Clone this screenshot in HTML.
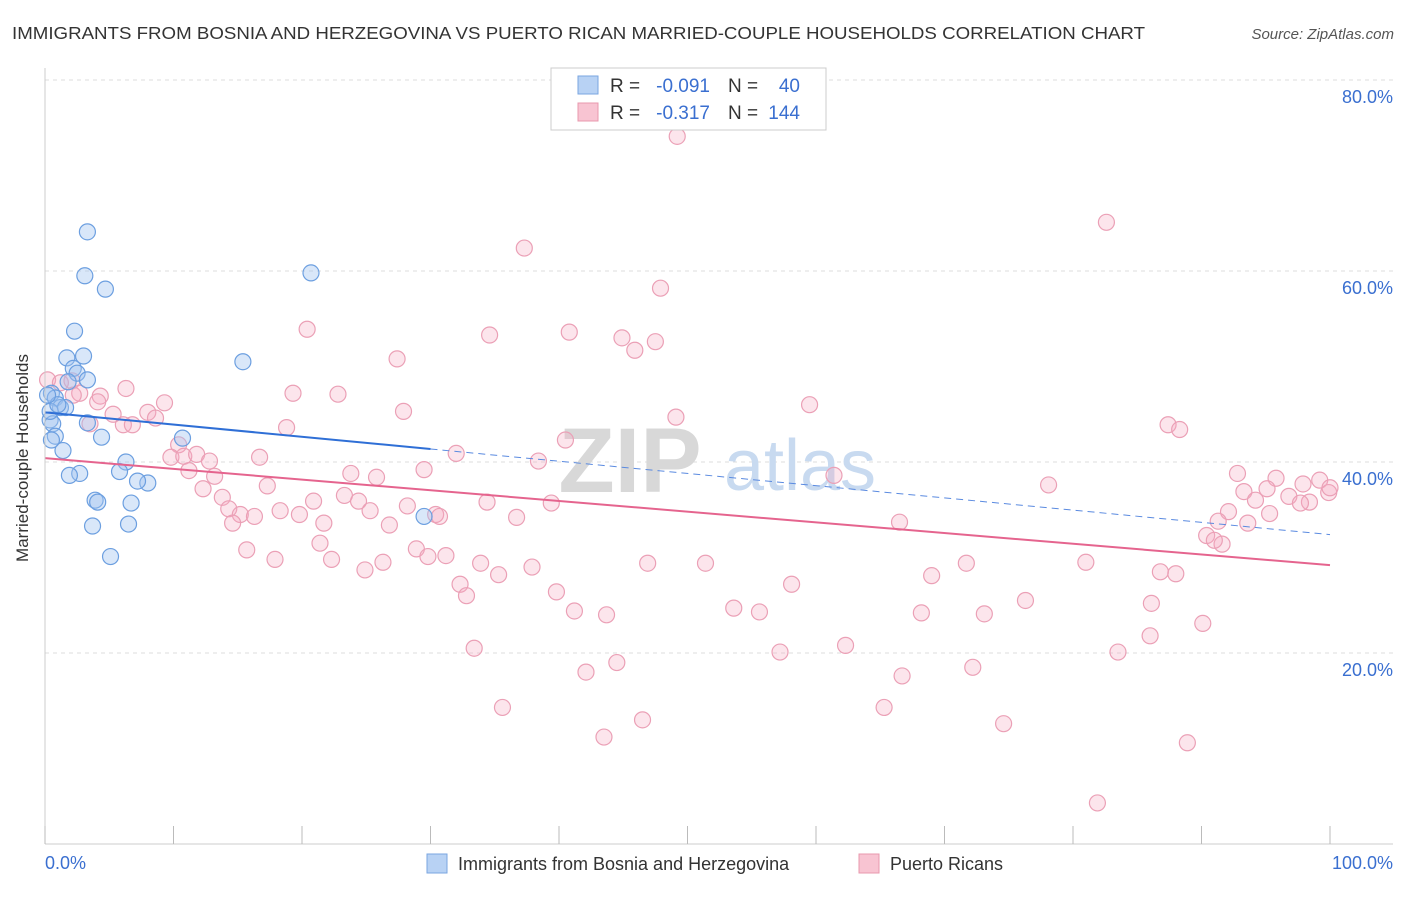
<!DOCTYPE html>
<html><head><meta charset="utf-8">
<style>
body{margin:0;background:#fff;font-family:"Liberation Sans",sans-serif;}
svg text{font-family:"Liberation Sans",sans-serif;}
</style></head>
<body>
<svg width="1406" height="892" viewBox="0 0 1406 892">
<text x="12" y="39" font-size="17.5" fill="#333" textLength="1133" lengthAdjust="spacingAndGlyphs">IMMIGRANTS FROM BOSNIA AND HERZEGOVINA VS PUERTO RICAN MARRIED-COUPLE HOUSEHOLDS CORRELATION CHART</text>
<text x="1394" y="39" font-size="15" fill="#555" text-anchor="end" font-style="italic">Source: ZipAtlas.com</text>
<g id="grid"></g>
<g>
<text x="630" y="492" font-size="92" fill="#d8d8d8" text-anchor="middle" font-family="Liberation Serif" font-weight="bold">ZIP</text>
<text x="800" y="490" font-size="72" fill="#c8daf0" text-anchor="middle">atlas</text>
</g>
<g id="pts"></g>
<g id="trend"></g>
<g id="axes"></g>
<text x="28" y="458" font-size="17" fill="#333" text-anchor="middle" transform="rotate(-90 28 458)">Married-couple Households</text>
<g>
<rect x="551" y="68" width="275" height="62" fill="#fff" stroke="#ccc"/>
<rect x="578" y="76" width="20" height="18" fill="#b8d2f4" stroke="#7aa6e0"/>
<text x="610" y="92" font-size="19" fill="#333">R =</text>
<text x="710" y="92" font-size="19" fill="#3a6fd0" text-anchor="end">-0.091</text>
<text x="728" y="92" font-size="19" fill="#333">N =</text>
<text x="800" y="92" font-size="19" fill="#3a6fd0" text-anchor="end">40</text>
<rect x="578" y="103" width="20" height="18" fill="#f8c4d2" stroke="#e898ae"/>
<text x="610" y="119" font-size="19" fill="#333">R =</text>
<text x="710" y="119" font-size="19" fill="#3a6fd0" text-anchor="end">-0.317</text>
<text x="728" y="119" font-size="19" fill="#333">N =</text>
<text x="800" y="119" font-size="19" fill="#3a6fd0" text-anchor="end">144</text>
</g>
<g>
<rect x="427" y="854" width="20" height="19" fill="#b8d2f4" stroke="#7aa6e0"/>
<text x="458" y="870" font-size="18" fill="#333">Immigrants from Bosnia and Herzegovina</text>
<rect x="859" y="854" width="20" height="19" fill="#f8c4d2" stroke="#e898ae"/>
<text x="890" y="870" font-size="18" fill="#333">Puerto Ricans</text>
</g>
</svg>
<script>
const yTicks=[20,40,60,80];
const yTickLabels=["20.0%","40.0%","60.0%","80.0%"];
const xTicks=[0,10,20,30,40,50,60,70,80,90,100];
const blueX=[3.3,3.1,4.7,20.7,2.3,3.0,1.7,15.4,2.2,2.5,3.3,1.8,0.5,0.8,1.2,1.6,0.4,0.6,3.3,0.8,4.4,10.7,1.4,6.3,2.7,1.9,5.8,8.0,7.2,3.9,4.1,6.7,3.7,6.5,29.5,5.1,0.4,1.0,0.2,0.5];
const blueY=[64.1,59.5,58.1,59.8,53.7,51.1,50.9,50.5,49.8,49.3,48.6,48.4,47.2,46.7,45.7,45.7,44.4,44.0,44.1,42.7,42.6,42.5,41.2,40.0,38.8,38.6,39.0,37.8,38.0,36.0,35.8,35.7,33.3,33.5,34.3,30.1,45.3,46.0,47.0,42.3];
const pinkX=[49.2,82.6,37.3,47.9,20.4,34.6,40.8,44.9,47.5,45.9,27.4,0.2,1.2,2.1,2.7,4.3,6.3,19.3,22.8,9.3,27.9,59.5,5.3,8.0,8.6,6.1,6.8,3.5,18.8,49.1,87.4,88.3,10.4,40.5,32.0,9.8,10.8,11.8,12.8,16.7,38.4,11.2,13.2,23.8,25.8,29.5,61.4,92.8,95.8,97.9,99.2,12.3,17.3,78.1,93.3,95.1,96.8,99.9,13.8,23.3,24.4,20.9,34.4,39.4,28.2,14.3,15.2,16.3,18.3,19.8,25.3,30.4,30.7,36.7,92.1,94.2,98.4,100.0,95.3,91.3,97.7,14.6,21.7,26.8,66.5,93.6,90.4,91.6,91.0,21.4,15.7,28.9,31.2,29.8,17.9,22.3,26.3,33.9,37.9,46.9,51.4,71.7,81.0,24.9,35.3,69.0,86.8,88.0,32.3,58.1,39.8,32.8,76.3,86.1,41.2,43.7,53.6,55.6,68.2,73.1,90.1,86.0,62.3,33.4,57.2,83.5,44.5,42.1,72.2,66.7,46.5,35.6,65.3,74.6,43.5,88.9,81.9,2.2,4.1];
const pinkY=[74.1,65.1,62.4,58.2,53.9,53.3,53.6,53.0,52.6,51.7,50.8,48.6,48.3,48.5,47.2,46.9,47.7,47.2,47.1,46.2,45.3,46.0,45.0,45.2,44.6,43.9,43.9,44.0,43.6,44.7,43.9,43.4,41.8,42.3,40.9,40.5,40.6,40.8,40.1,40.5,40.1,39.1,38.5,38.8,38.4,39.2,38.6,38.8,38.3,37.7,38.1,37.2,37.5,37.6,36.9,37.2,36.4,36.8,36.3,36.5,35.9,35.9,35.8,35.7,35.4,35.1,34.5,34.3,34.9,34.5,34.9,34.5,34.3,34.2,34.8,36.0,35.8,37.3,34.6,33.8,35.7,33.6,33.6,33.4,33.7,33.6,32.3,31.4,31.8,31.5,30.8,30.9,30.2,30.1,29.8,29.8,29.5,29.4,29.0,29.4,29.4,29.4,29.5,28.7,28.2,28.1,28.5,28.3,27.2,27.2,26.4,26.0,25.5,25.2,24.4,24.0,24.7,24.3,24.2,24.1,23.1,21.8,20.8,20.5,20.1,20.1,19.0,18.0,18.5,17.6,13.0,14.3,14.3,12.6,11.2,10.6,4.3,47.0,46.3];
const blueTrend=[45.2,-0.128]; // intercept, slope
const blueSolidEnd=30;
const pinkTrend=[40.4,-0.112];

const NS="http://www.w3.org/2000/svg";
const X0=45,X1=1330,Y0=844,YPER=9.55;
function sx(v){return X0+(X1-X0)*v/100;}
function sy(v){return Y0-v*YPER;}
function mk(tag,attrs,parent){const e=document.createElementNS(NS,tag);for(const k in attrs)e.setAttribute(k,attrs[k]);parent.appendChild(e);return e;}
const grid=document.getElementById('grid'),axes=document.getElementById('axes'),pts=document.getElementById('pts'),trend=document.getElementById('trend');
yTicks.forEach((t,i)=>{
  const l=mk('line',{x1:X0,x2:1393,y1:sy(t),y2:sy(t),stroke:'#ddd','stroke-dasharray':'4,4'},grid);
  
  
  const tx=mk('text',{x:1393,y:sy(t)+23,'font-size':18,fill:'#3a6fd0','text-anchor':'end'},axes);
  tx.textContent=yTickLabels[i];
  
  
});
mk('line',{x1:X0,x2:X0,y1:68,y2:Y0,stroke:'#ccc'},axes);
mk('line',{x1:X0,x2:1393,y1:Y0,y2:Y0,stroke:'#ccc'},axes);
xTicks.forEach(t=>{const l=mk('line',{x1:sx(t),x2:sx(t),y1:826,y2:Y0,stroke:'#bbb'},axes);
  
  });
let a=mk('text',{x:45,y:869,'font-size':18,fill:'#3a6fd0'},axes);a.textContent='0.0%';


a=mk('text',{x:1393,y:869,'font-size':18,fill:'#3a6fd0','text-anchor':'end'},axes);a.textContent='100.0%';


pinkX.forEach((v,i)=>{const c=mk('circle',{cx:sx(v),cy:sy(pinkY[i]),r:8,fill:'rgba(244,170,192,0.3)',stroke:'#eba0b6','stroke-width':1.2},pts);
  
  });
blueX.forEach((v,i)=>{const c=mk('circle',{cx:sx(v),cy:sy(blueY[i]),r:8,fill:'rgba(160,196,240,0.4)',stroke:'#6c9fe0','stroke-width':1.2},pts);
  
  });
const f=(tr,x)=>tr[0]+tr[1]*x;
let t1=mk('line',{x1:sx(0),y1:sy(f(blueTrend,0)),x2:sx(blueSolidEnd),y2:sy(f(blueTrend,blueSolidEnd)),stroke:'#2f6fd6','stroke-width':2},trend);


let t2=mk('line',{x1:sx(blueSolidEnd),y1:sy(f(blueTrend,blueSolidEnd)),x2:sx(100),y2:sy(f(blueTrend,100)),stroke:'#5a8ae0','stroke-width':1,'stroke-dasharray':'7,5'},trend);


let t3=mk('line',{x1:sx(0),y1:sy(f(pinkTrend,0)),x2:sx(100),y2:sy(f(pinkTrend,100)),stroke:'#e5648e','stroke-width':2},trend);


</script>
</body></html>
